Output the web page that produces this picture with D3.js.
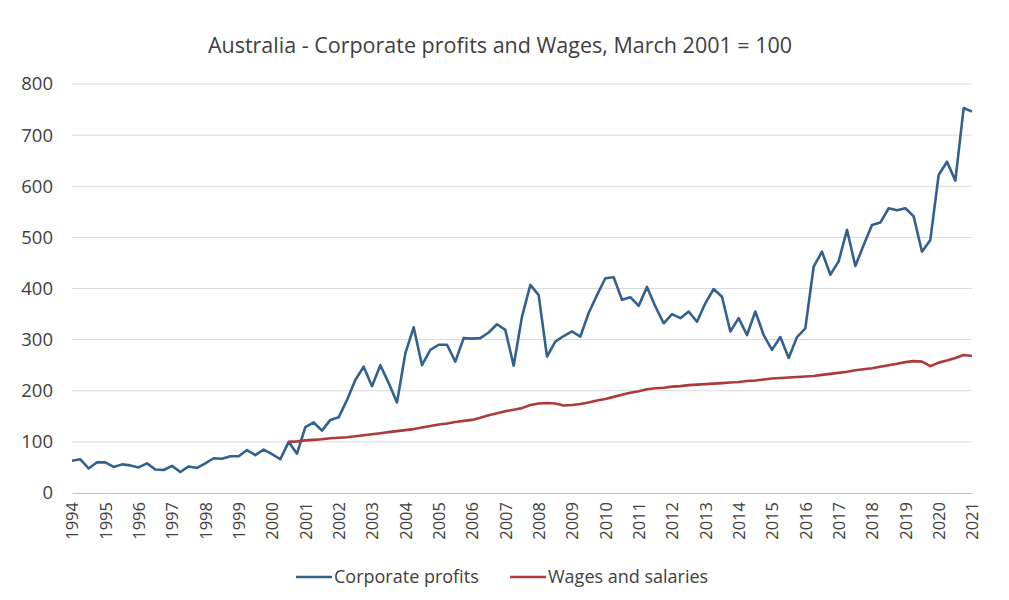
<!DOCTYPE html>
<html>
<head>
<meta charset="utf-8">
<script src="https://cdn.jsdelivr.net/npm/d3@7"></script>
<style>
  body { margin: 0; background: #fff; }
  text { font-family: "Open Sans", "Noto Sans", sans-serif; fill: #404040; }
</style>
</head>
<body>
<svg id="chart" width="1009" height="600"></svg>
<script>
// Year tick labels (one every 4 quarters, first at March 1994)
const years = [1994, 1995, 1996, 1997, 1998, 1999, 2000, 2001, 2002, 2003, 2004, 2005, 2006, 2007,
  2008, 2009, 2010, 2011, 2012, 2013, 2014, 2015, 2016, 2017, 2018, 2019, 2020, 2021];

// Quarterly index values, March 1994 onwards
const profits = [63, 66, 48, 60, 60, 51, 56, 54, 50, 58, 46, 45, 53, 41, 52, 49, 58, 68, 67, 72,
  72, 84, 74, 85, 76, 66, 100, 77, 129, 138, 122, 143, 148, 182, 221, 247, 209, 250, 215, 177,
  273, 324, 250, 280, 290, 290, 257, 303, 302, 303, 314, 330, 319, 249, 345, 407, 387, 267, 296, 307,
  316, 306, 352, 387, 420, 422, 378, 383, 366, 403, 365, 332, 350, 342, 355, 335, 371, 399, 384, 316,
  342, 309, 355, 309, 280, 305, 264, 305, 322, 443, 472, 427, 453, 515, 444, 485, 524, 529, 557, 553,
  557, 541, 472, 495, 622, 648, 611, 753, 746];

// Wages series starts later (first value at quarter 26)
const wagesStart = 26;
const wages = [100, 101, 103, 104, 105, 107, 108, 109, 111, 113, 115, 117, 119, 121, 123, 125, 128, 131,
  134, 136, 139, 141, 143, 147, 152, 156, 160, 163, 166, 172, 175, 176, 175, 171, 172, 174, 177, 181,
  184, 188, 192, 196, 199, 203, 205, 206, 208, 209, 211, 212, 213, 214, 215, 216, 217, 219, 220, 222,
  224, 225, 226, 227, 228, 229, 231, 233, 235, 237, 240, 242, 244, 247, 250, 253, 256, 258, 257, 248,
  255, 259, 264, 270, 268];

const yTicks = [0, 100, 200, 300, 400, 500, 600, 700, 800];

const svg = d3.select("#chart");

const x = d3.scaleLinear().domain([0, profits.length - 1]).range([72, 972]);
const y = d3.scaleLinear().domain([0, 800]).range([493, 84]);

// Title
svg.append("text")
  .attr("x", 500).attr("y", 53)
  .attr("text-anchor", "middle")
  .style("font-size", "21.5px")
  .text("Australia - Corporate profits and Wages, March 2001 = 100");

// Gridlines
svg.append("g")
  .selectAll("line")
  .data(yTicks.filter(d => d > 0))
  .enter().append("line")
  .attr("x1", 72).attr("x2", 972)
  .attr("y1", d => y(d)).attr("y2", d => y(d))
  .attr("stroke", "#d9d9d9").attr("stroke-width", 1);

// Y axis labels
const yAxis = svg.append("g")
  .attr("transform", "translate(62,0)")
  .call(d3.axisLeft(y).tickValues(yTicks).tickSize(0).tickPadding(9));
yAxis.select(".domain").remove();
yAxis.selectAll("text").style("font-size", "18.5px").attr("fill", "#404040");

// X axis
const xAxis = svg.append("g")
  .attr("transform", `translate(0,${y(0)})`)
  .call(d3.axisBottom(x).tickValues(years.map((d, i) => i * 4)).tickSize(0)
    .tickFormat((d, i) => years[i]));
xAxis.select(".domain").attr("stroke", "#bfbfbf");
xAxis.selectAll("text")
  .style("font-size", "16.5px")
  .attr("fill", "#404040")
  .attr("text-anchor", "end")
  .attr("transform", "rotate(-90)")
  .attr("x", -9).attr("y", 0).attr("dy", "0.35em");

// Lines
const line = d3.line().x(d => x(d.i)).y(d => y(d.v));

svg.append("path")
  .datum(profits.map((v, i) => ({ i, v })))
  .attr("d", line)
  .attr("fill", "none")
  .attr("stroke", "#32618f")
  .attr("stroke-width", 2.6)
  .attr("stroke-linejoin", "round");

svg.append("path")
  .datum(wages.map((v, i) => ({ i: i + wagesStart, v })))
  .attr("d", line)
  .attr("fill", "none")
  .attr("stroke", "#ad3a3a")
  .attr("stroke-width", 2.6)
  .attr("stroke-linejoin", "round");

// Legend
const legend = [
  { name: "Corporate profits", color: "#32618f", x: 296 },
  { name: "Wages and salaries", color: "#ad3a3a", x: 510 }
];
const lg = svg.append("g").selectAll("g").data(legend).enter().append("g")
  .attr("transform", d => `translate(${d.x},577)`);
lg.append("line")
  .attr("x1", 0).attr("x2", 36)
  .attr("stroke", d => d.color).attr("stroke-width", 2.6);
lg.append("text")
  .attr("x", 38).attr("dy", "0.35em")
  .style("font-size", "18px")
  .text(d => d.name);
</script>
</body>
</html>
